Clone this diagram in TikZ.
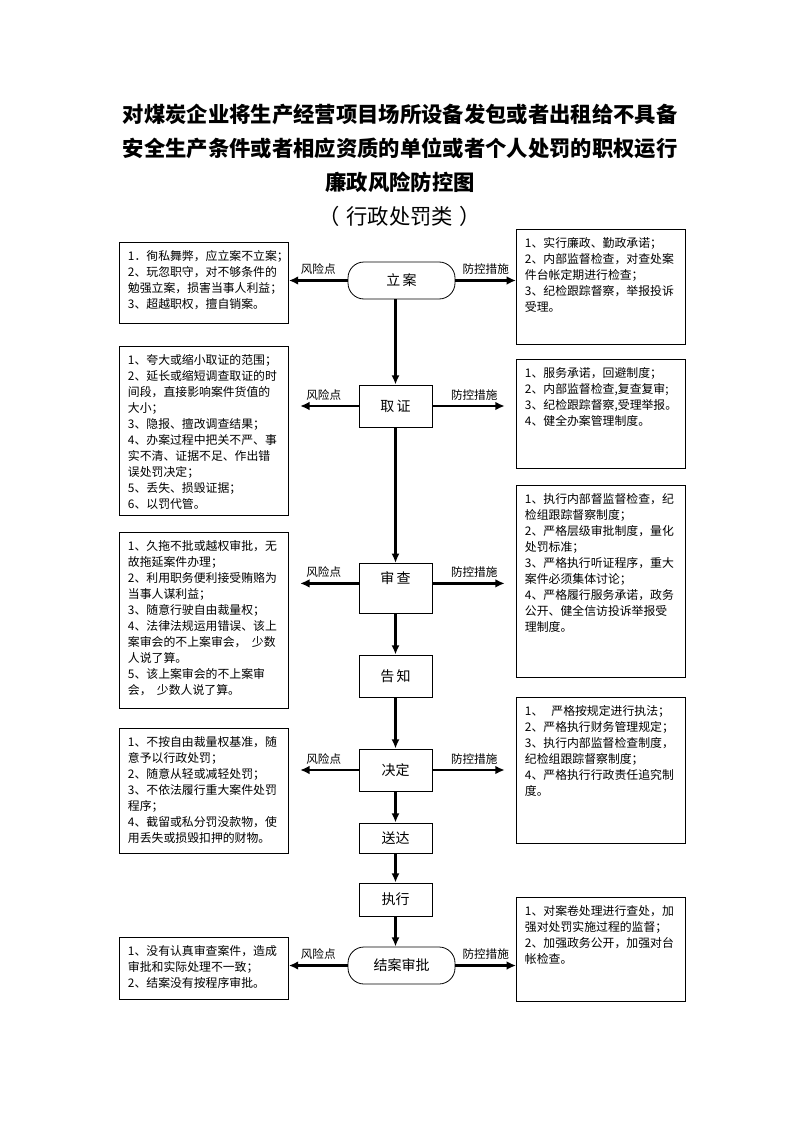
\documentclass[tikz,border=0pt]{standalone}
\usepackage{fontspec}
\setmainfont{Noto Sans CJK SC}
\usepackage{tikz}
\usetikzlibrary{shapes.geometric, arrows.meta}
\tikzstyle{terminal} = [rectangle, rounded corners=12pt, minimum width=80.25pt,
minimum height=27.75pt, text centered, draw=black, line width=0.6pt,
font=\fontsize{10.5}{12}\selectfont]
\tikzstyle{process} = [rectangle, minimum width=54.75pt, minimum height=31.5pt,
text centered, draw=black, line width=0.6pt, font=\fontsize{10.5}{12}\selectfont]
\tikzstyle{risk} = [rectangle, anchor=north west, text width=114pt, inner xsep=6.4pt,
inner ysep=3pt, text height=10.4pt, align=left, draw=black, line width=0.6pt,
font=\fontsize{8.9}{12}\selectfont]
\tikzstyle{lbl} = [font=\fontsize{8.7}{12}\selectfont]
\tikzstyle{arrow} = [line width=2pt, -{Latex[length=7pt,width=6.5pt]}]
\tikzstyle{flow} = [line width=1.6pt, -{Latex[length=7pt,width=6pt]}]

\begin{document}
\begin{tikzpicture}[x=0.75pt, y=-0.75pt]
  \useasboundingbox (0,0) rectangle (794,1123);
  % Title
  \node (title) [align=center, font=\fontsize{16}{25.5}\selectfont\bfseries] at (400,165)
        {对煤炭企业将生产经营项目场所设备发包或者出租给不具备\\
         安全生产条件或者相应资质的单位或者个人处罚的职权运行\\
         廉政风险防控图\\
         {\mdseries （\hspace{5pt}行政处罚类\hspace{5pt}）}};
  % Nodes of the procedure
  \node (lian) [terminal] at (401.5,280.5) {立\,案};
  \node (quzheng) [process] at (395.5,406) {取\,证};
  \node (shencha) [process, anchor=north, inner ysep=0pt, text height=15pt,
                   text depth=22.5pt] at (395.5,563) {审\,查};
  \node (gaozhi) [process] at (395.5,676) {告\,知};
  \node (jueding) [process] at (395.5,770) {决定};
  \node (songda) [process, minimum height=22.5pt] at (395.5,838) {送达};
  \node (zhixing) [process, minimum height=24.75pt] at (395.5,899.5) {执行};
  \node (jiean) [terminal] at (401.5,965.5) {结案审批};
  % Risk points
  \node (riskA) [risk, text depth=44.35pt] at (119,242)
        {1．徇私舞弊，应立案不立案；\\
         2、玩忽职守，对不够条件的\\
         勉强立案，损害当事人利益；\\
         3、超越职权，擅自销案。};
  \node (riskB) [risk, text depth=110.35pt] at (119,346)
        {1、夸大或缩小取证的范围；\\
         2、延长或缩短调查取证的时\\
         间段，直接影响案件货值的\\
         大小；\\
         3、隐报、擅改调查结果；\\
         4、办案过程中把关不严、事\\
         实不清、证据不足、作出错\\
         误处罚决定；\\
         5、丢失、损毁证据；\\
         6、以罚代管。};
  \node (riskC) [risk, text depth=115.6pt] at (119,532)
        {1、久拖不批或越权审批，无\\
         故拖延案件办理；\\
         2、利用职务便利接受贿赂为\\
         当事人谋利益；\\
         3、随意行驶自由裁量权；\\
         4、法律法规运用错误、该上\\
         案审会的不上案审会，\hspace{4pt}少数\\
         人说了算。\\
         5、该上案审会的不上案审\\
         会，\hspace{4pt}少数人说了算。};
  \node (riskD) [risk, text depth=77.35pt] at (119,728)
        {1、不按自由裁量权基准，随\\
         意予以行政处罚；\\
         2、随意从轻或减轻处罚；\\
         3、不依法履行重大案件处罚\\
         程序；\\
         4、截留或私分罚没款物，使\\
         用丢失或损毁扣押的财物。};
  \node (riskE) [risk, text depth=30.1pt] at (119,937)
        {1、没有认真审查案件，造成\\
         审批和实际处理不一致；\\
         2、结案没有按程序审批。};
  % Control measures
  \node (ctrlA) [risk, text depth=69.85pt] at (516,229)
        {1、实行廉政、勤政承诺；\\
         2、内部监督检查，对查处案\\
         件台帐定期进行检查；\\
         3、纪检跟踪督察，举报投诉\\
         受理。};
  \node (ctrlB) [risk, text depth=65.35pt] at (516,359)
        {1、服务承诺，回避制度；\\
         2、内部监督检查,复查复审;\\
         3、纪检跟踪督察,受理举报。\\
         4、健全办案管理制度。};
  \node (ctrlC) [risk, text depth=127.6pt] at (516,485)
        {1、执行内部督监督检查，纪\\
         检组跟踪督察制度；\\
         2、严格层级审批制度，量化\\
         处罚标准；\\
         3、严格执行听证程序，重大\\
         案件必须集体讨论；\\
         4、严格履行服务承诺，政务\\
         公开、健全信访投诉举报受\\
         理制度。};
  \node (ctrlD) [risk, text depth=93.1pt] at (516,697)
        {1、\hspace{6pt}严格按规定进行执法；\\
         2、严格执行财务管理规定；\\
         3、执行内部监督检查制度，\\
         纪检组跟踪督察制度；\\
         4、严格执行行政责任追究制\\
         度。};
  \node (ctrlE) [risk, text depth=61.6pt] at (516,897)
        {1、对案卷处理进行查处，加\\
         强对处罚实施过程的监督；\\
         2、加强政务公开，加强对台\\
         帐检查。};
  % Connections
  \draw [flow] (lian.south -| quzheng.north) -- (quzheng.north);
  \draw [flow] (quzheng.south) -- (shencha.north);
  \draw [flow] (shencha.south) -- (gaozhi.north);
  \draw [flow] (gaozhi.south) -- (jueding.north);
  \draw [flow] (jueding.south) -- (songda.north);
  \draw [flow] (songda.south) -- (zhixing.north);
  \draw [flow] (zhixing.south) -- (zhixing.south |- jiean.north);
  \draw [arrow] (lian.west) -- (lian.west -| riskA.east)
        node[midway, above, lbl] {风险点};
  \draw [arrow] (lian.east) -- (lian.east -| ctrlA.west)
        node[midway, above, lbl] {防控措施};
  \draw [arrow, shorten >=8.5pt] (quzheng.west) -- (quzheng.west -| riskB.east)
        node[midway, above, lbl] {风险点};
  \draw [arrow, shorten >=8.5pt] (quzheng.east) -- (quzheng.east -| ctrlB.west)
        node[midway, above, lbl] {防控措施};
  \draw [arrow, shorten >=8.5pt] (shencha.base west) -- (shencha.base west -| riskC.east)
        node[midway, above, lbl] {风险点};
  \draw [arrow, shorten >=8.5pt] (shencha.base east) -- (shencha.base east -| ctrlC.west)
        node[midway, above, lbl] {防控措施};
  \draw [arrow, shorten >=8.5pt] (jueding.west) -- (jueding.west -| riskD.east)
        node[midway, above, lbl] {风险点};
  \draw [arrow, shorten >=8.5pt] (jueding.east) -- (jueding.east -| ctrlD.west)
        node[midway, above, lbl] {防控措施};
  \draw [arrow] (jiean.west) -- (jiean.west -| riskE.east)
        node[midway, above, lbl] {风险点};
  \draw [arrow] (jiean.east) -- (jiean.east -| ctrlE.west)
        node[midway, above, lbl] {防控措施};
\end{tikzpicture}
\end{document}
